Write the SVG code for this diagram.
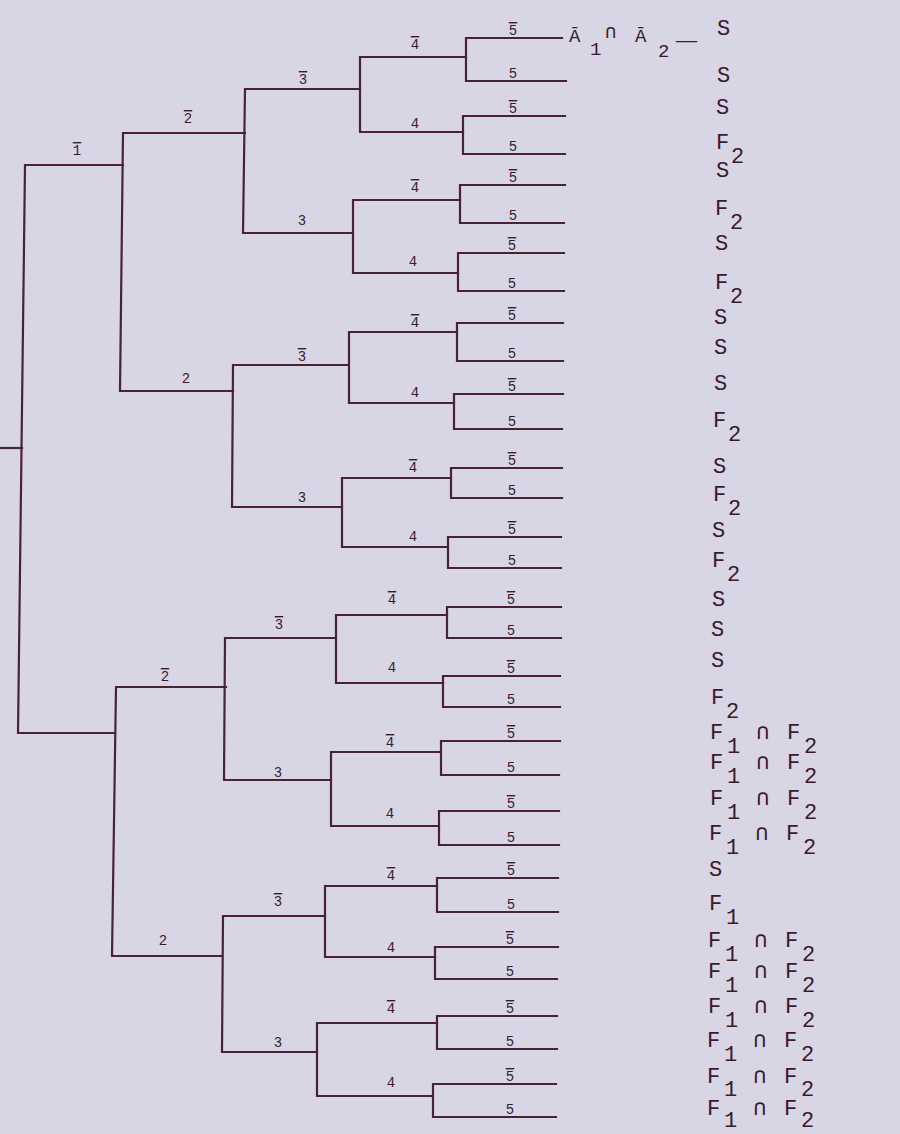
<svg xmlns="http://www.w3.org/2000/svg" width="900" height="1134" viewBox="0 0 900 1134">
<style>
.bg{fill:#d8d5e5}
.ln{fill:none;stroke:#4a2236;stroke-width:2.2;stroke-linejoin:miter;stroke-linecap:square}
text{font-family:"Liberation Mono","DejaVu Sans Mono",monospace;fill:#3a1a2b}
.lb{font-size:14px;text-anchor:middle}
.ov{text-decoration:overline}
.o{font-size:22px}
.a{font-size:19px}
.cap{font-family:"DejaVu Sans Mono","Liberation Mono",monospace}
</style>
<rect class="bg" x="0" y="0" width="900" height="1134"/>
<g id="connectors" class="ln">
<path d="M0 448 H22"/>
<path d="M123 165 H25 L18 733 H115"/>
<path d="M245 133 H123 L120 391 H233"/>
<path d="M226 687 H116 L112 956 H222"/>
<path d="M360 89 H245 L243 233 H353"/>
<path d="M348 365 H233 L232 507 H342"/>
<path d="M336 638 H225 L224 780 H331"/>
<path d="M325 916 H223 L222 1052 H317"/>
<path d="M466 57 H360 V132 H463"/>
<path d="M460 200 H353 V273 H458"/>
<path d="M457 332 H349 V403 H454"/>
<path d="M451 478 H342 V547 H448"/>
<path d="M447 615 H336 V683 H443"/>
<path d="M441 752 H331 V826 H439"/>
<path d="M437 886 H325 V957 H435"/>
<path d="M437 1023 H317 V1096 H433"/>
<path d="M562 38 H466 V81 H566"/>
<path d="M565 116 H463 V154 H565"/>
<path d="M565 185 H460 V223 H564"/>
<path d="M564 253 H458 V291 H564"/>
<path d="M563 323 H457 V361 H563"/>
<path d="M563 394 H454 V429 H562"/>
<path d="M562 468 H451 V498 H562"/>
<path d="M561 537 H448 V568 H561"/>
<path d="M561 607 H447 V638 H561"/>
<path d="M560 676 H443 V707 H560"/>
<path d="M560 741 H441 V775 H559"/>
<path d="M559 811 H439 V845 H559"/>
<path d="M558 878 H437 V912 H558"/>
<path d="M558 947 H435 V979 H557"/>
<path d="M557 1016 H437 V1049 H557"/>
<path d="M556 1084 H433 V1117 H556"/>
</g>
<g id="branch-labels" class="lb">
<text x="77" y="155" class="ov">1</text>
<text x="188" y="123" class="ov">2</text>
<text x="186" y="383">2</text>
<text x="165" y="681" class="ov">2</text>
<text x="163" y="945">2</text>
<text x="303" y="84" class="ov">3</text>
<text x="302" y="225">3</text>
<text x="302" y="361" class="ov">3</text>
<text x="302" y="502">3</text>
<text x="279" y="629" class="ov">3</text>
<text x="278" y="777">3</text>
<text x="278" y="906" class="ov">3</text>
<text x="278" y="1047">3</text>
<text x="415" y="49" class="ov">4</text>
<text x="415" y="128">4</text>
<text x="415" y="192" class="ov">4</text>
<text x="413" y="266">4</text>
<text x="415" y="327" class="ov">4</text>
<text x="415" y="397">4</text>
<text x="413" y="472" class="ov">4</text>
<text x="413" y="541">4</text>
<text x="392" y="604" class="ov">4</text>
<text x="392" y="672">4</text>
<text x="390" y="747" class="ov">4</text>
<text x="390" y="818">4</text>
<text x="391" y="880" class="ov">4</text>
<text x="391" y="952">4</text>
<text x="391" y="1013" class="ov">4</text>
<text x="391" y="1087">4</text>
<text x="513" y="35" class="ov">5</text>
<text x="513" y="78">5</text>
<text x="513" y="113" class="ov">5</text>
<text x="513" y="151">5</text>
<text x="513" y="182" class="ov">5</text>
<text x="513" y="220">5</text>
<text x="512" y="250" class="ov">5</text>
<text x="512" y="288">5</text>
<text x="512" y="320" class="ov">5</text>
<text x="512" y="358">5</text>
<text x="512" y="391" class="ov">5</text>
<text x="512" y="426">5</text>
<text x="512" y="465" class="ov">5</text>
<text x="512" y="495">5</text>
<text x="512" y="534" class="ov">5</text>
<text x="512" y="565">5</text>
<text x="511" y="604" class="ov">5</text>
<text x="511" y="635">5</text>
<text x="511" y="673" class="ov">5</text>
<text x="511" y="704">5</text>
<text x="511" y="738" class="ov">5</text>
<text x="511" y="772">5</text>
<text x="511" y="808" class="ov">5</text>
<text x="511" y="842">5</text>
<text x="511" y="875" class="ov">5</text>
<text x="511" y="909">5</text>
<text x="510" y="944" class="ov">5</text>
<text x="510" y="976">5</text>
<text x="510" y="1013" class="ov">5</text>
<text x="510" y="1046">5</text>
<text x="510" y="1081" class="ov">5</text>
<text x="510" y="1114">5</text>
</g>
<g id="event-first">
<text class="a"><tspan x="569" y="42">Ā</tspan><tspan x="590" y="55">1</tspan><tspan class="cap" x="605" y="38">∩</tspan><tspan x="635" y="42">Ā</tspan><tspan x="658" y="57">2</tspan><tspan x="676" y="46" textLength="21" lengthAdjust="spacingAndGlyphs">—</tspan></text>
</g>
<g id="outcomes" class="o">
<g id="out-1"><text x="717" y="35">S</text></g>
<g id="out-2"><text x="717" y="82">S</text></g>
<g id="out-3"><text x="716" y="114">S</text></g>
<g id="out-4"><text><tspan x="716" y="149">F</tspan><tspan x="731" y="163">2</tspan></text></g>
<g id="out-5"><text x="716" y="177">S</text></g>
<g id="out-6"><text><tspan x="715" y="215">F</tspan><tspan x="730" y="229">2</tspan></text></g>
<g id="out-7"><text x="715" y="250">S</text></g>
<g id="out-8"><text><tspan x="715" y="289">F</tspan><tspan x="730" y="303">2</tspan></text></g>
<g id="out-9"><text x="714" y="324">S</text></g>
<g id="out-10"><text x="714" y="354">S</text></g>
<g id="out-11"><text x="714" y="390">S</text></g>
<g id="out-12"><text><tspan x="713" y="427">F</tspan><tspan x="728" y="441">2</tspan></text></g>
<g id="out-13"><text x="713" y="473">S</text></g>
<g id="out-14"><text><tspan x="713" y="501">F</tspan><tspan x="728" y="515">2</tspan></text></g>
<g id="out-15"><text x="712" y="537">S</text></g>
<g id="out-16"><text><tspan x="712" y="567">F</tspan><tspan x="727" y="581">2</tspan></text></g>
<g id="out-17"><text x="712" y="606">S</text></g>
<g id="out-18"><text x="711" y="636">S</text></g>
<g id="out-19"><text x="711" y="667">S</text></g>
<g id="out-20"><text><tspan x="711" y="704">F</tspan><tspan x="726" y="718">2</tspan></text></g>
<g id="out-21"><text><tspan x="710" y="739">F</tspan><tspan x="727" y="753">1</tspan><tspan class="cap" x="756" y="739">∩</tspan><tspan x="787" y="739">F</tspan><tspan x="804" y="753">2</tspan></text></g>
<g id="out-22"><text><tspan x="710" y="769">F</tspan><tspan x="727" y="783">1</tspan><tspan class="cap" x="756" y="769">∩</tspan><tspan x="787" y="769">F</tspan><tspan x="804" y="783">2</tspan></text></g>
<g id="out-23"><text><tspan x="710" y="805">F</tspan><tspan x="727" y="819">1</tspan><tspan class="cap" x="756" y="805">∩</tspan><tspan x="787" y="805">F</tspan><tspan x="804" y="819">2</tspan></text></g>
<g id="out-24"><text><tspan x="709" y="840">F</tspan><tspan x="726" y="854">1</tspan><tspan class="cap" x="755" y="840">∩</tspan><tspan x="786" y="840">F</tspan><tspan x="803" y="854">2</tspan></text></g>
<g id="out-25"><text x="709" y="876">S</text></g>
<g id="out-26"><text><tspan x="709" y="910">F</tspan><tspan x="726" y="924">1</tspan></text></g>
<g id="out-27"><text><tspan x="708" y="947">F</tspan><tspan x="725" y="961">1</tspan><tspan class="cap" x="754" y="947">∩</tspan><tspan x="785" y="947">F</tspan><tspan x="802" y="961">2</tspan></text></g>
<g id="out-28"><text><tspan x="708" y="978">F</tspan><tspan x="725" y="992">1</tspan><tspan class="cap" x="754" y="978">∩</tspan><tspan x="785" y="978">F</tspan><tspan x="802" y="992">2</tspan></text></g>
<g id="out-29"><text><tspan x="708" y="1013">F</tspan><tspan x="725" y="1027">1</tspan><tspan class="cap" x="754" y="1013">∩</tspan><tspan x="785" y="1013">F</tspan><tspan x="802" y="1027">2</tspan></text></g>
<g id="out-30"><text><tspan x="707" y="1047">F</tspan><tspan x="724" y="1061">1</tspan><tspan class="cap" x="753" y="1047">∩</tspan><tspan x="784" y="1047">F</tspan><tspan x="801" y="1061">2</tspan></text></g>
<g id="out-31"><text><tspan x="707" y="1083">F</tspan><tspan x="724" y="1096">1</tspan><tspan class="cap" x="753" y="1083">∩</tspan><tspan x="784" y="1083">F</tspan><tspan x="801" y="1096">2</tspan></text></g>
<g id="out-32"><text><tspan x="707" y="1115">F</tspan><tspan x="724" y="1127">1</tspan><tspan class="cap" x="753" y="1115">∩</tspan><tspan x="784" y="1115">F</tspan><tspan x="801" y="1127">2</tspan></text></g>
</g>
</svg>
